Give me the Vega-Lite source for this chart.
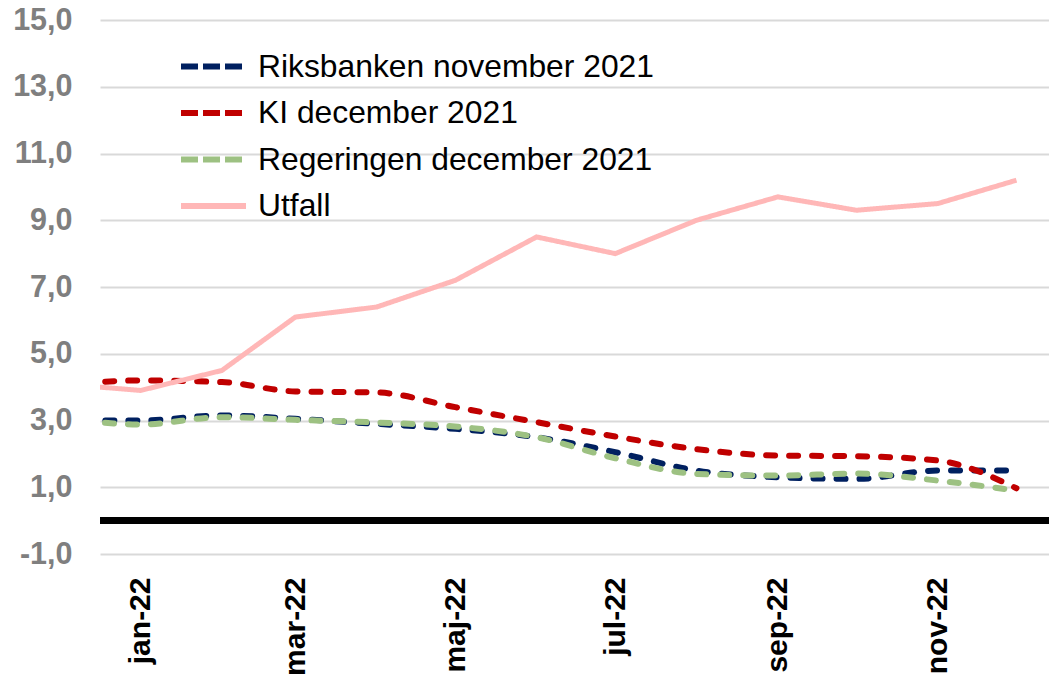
{
  "$schema": "https://vega.github.io/schema/vega-lite/v6.json",
  "width": 949,
  "height": 534,
  "autosize": {"type": "none"},
  "padding": {"left": 100, "top": 20, "right": 0, "bottom": 124},
  "background": "white",
  "config": {
    "view": {"stroke": null},
    "font": "Liberation Sans",
    "legend": {
      "title": null,
      "orient": "none",
      "legendX": 94,
      "legendY": 27,
      "symbolType": "M-2,0H2",
      "symbolSize": 1056,
      "symbolStrokeWidth": 6,
      "labelFont": "Liberation Sans",
      "labelFontSize": 31.8,
      "labelColor": "#000000",
      "labelLimit": 0,
      "labelOffset": 25,
      "rowPadding": 9.5,
      "padding": 0
    }
  },
  "data": {
    "values": [
      {"date": "2021-12-01", "series": "Riksbanken november 2021", "value": 3.0},
      {"date": "2022-01-01", "series": "Riksbanken november 2021", "value": 3.0},
      {"date": "2022-02-01", "series": "Riksbanken november 2021", "value": 3.15},
      {"date": "2022-03-01", "series": "Riksbanken november 2021", "value": 3.05},
      {"date": "2022-04-01", "series": "Riksbanken november 2021", "value": 2.9},
      {"date": "2022-05-01", "series": "Riksbanken november 2021", "value": 2.75},
      {"date": "2022-06-01", "series": "Riksbanken november 2021", "value": 2.5},
      {"date": "2022-07-01", "series": "Riksbanken november 2021", "value": 2.05},
      {"date": "2022-08-01", "series": "Riksbanken november 2021", "value": 1.5},
      {"date": "2022-09-01", "series": "Riksbanken november 2021", "value": 1.3},
      {"date": "2022-10-01", "series": "Riksbanken november 2021", "value": 1.25},
      {"date": "2022-11-01", "series": "Riksbanken november 2021", "value": 1.5},
      {"date": "2022-12-01", "series": "Riksbanken november 2021", "value": 1.5},
      {"date": "2021-12-01", "series": "KI december 2021", "value": 4.05},
      {"date": "2022-01-01", "series": "KI december 2021", "value": 4.2},
      {"date": "2022-02-01", "series": "KI december 2021", "value": 4.15},
      {"date": "2022-03-01", "series": "KI december 2021", "value": 3.87},
      {"date": "2022-04-01", "series": "KI december 2021", "value": 3.84},
      {"date": "2022-05-01", "series": "KI december 2021", "value": 3.4},
      {"date": "2022-06-01", "series": "KI december 2021", "value": 2.95},
      {"date": "2022-07-01", "series": "KI december 2021", "value": 2.52},
      {"date": "2022-08-01", "series": "KI december 2021", "value": 2.14},
      {"date": "2022-09-01", "series": "KI december 2021", "value": 1.95},
      {"date": "2022-10-01", "series": "KI december 2021", "value": 1.93},
      {"date": "2022-11-01", "series": "KI december 2021", "value": 1.8},
      {"date": "2022-12-01", "series": "KI december 2021", "value": 0.97},
      {"date": "2021-12-01", "series": "Regeringen december 2021", "value": 3.1},
      {"date": "2022-01-01", "series": "Regeringen december 2021", "value": 2.88},
      {"date": "2022-02-01", "series": "Regeringen december 2021", "value": 3.1},
      {"date": "2022-03-01", "series": "Regeringen december 2021", "value": 3.02},
      {"date": "2022-04-01", "series": "Regeringen december 2021", "value": 2.94},
      {"date": "2022-05-01", "series": "Regeringen december 2021", "value": 2.82},
      {"date": "2022-06-01", "series": "Regeringen december 2021", "value": 2.5},
      {"date": "2022-07-01", "series": "Regeringen december 2021", "value": 1.87},
      {"date": "2022-08-01", "series": "Regeringen december 2021", "value": 1.4},
      {"date": "2022-09-01", "series": "Regeringen december 2021", "value": 1.35},
      {"date": "2022-10-01", "series": "Regeringen december 2021", "value": 1.41},
      {"date": "2022-11-01", "series": "Regeringen december 2021", "value": 1.2},
      {"date": "2022-12-01", "series": "Regeringen december 2021", "value": 0.9},
      {"date": "2021-12-01", "series": "Utfall", "value": 4.1},
      {"date": "2022-01-01", "series": "Utfall", "value": 3.9},
      {"date": "2022-02-01", "series": "Utfall", "value": 4.5},
      {"date": "2022-03-01", "series": "Utfall", "value": 6.1},
      {"date": "2022-04-01", "series": "Utfall", "value": 6.4},
      {"date": "2022-05-01", "series": "Utfall", "value": 7.2},
      {"date": "2022-06-01", "series": "Utfall", "value": 8.5},
      {"date": "2022-07-01", "series": "Utfall", "value": 8.0},
      {"date": "2022-08-01", "series": "Utfall", "value": 9.0},
      {"date": "2022-09-01", "series": "Utfall", "value": 9.7},
      {"date": "2022-10-01", "series": "Utfall", "value": 9.3},
      {"date": "2022-11-01", "series": "Utfall", "value": 9.5},
      {"date": "2022-12-01", "series": "Utfall", "value": 10.2}
    ]
  },
  "encoding": {
    "x": {
      "field": "date",
      "type": "temporal",
      "scale": {
        "type": "utc",
        "domain": [
          {"year": 2021, "month": 12, "date": 16, "hours": 12, "utc": true},
          {"year": 2022, "month": 12, "date": 13, "hours": 10, "utc": true}
        ]
      },
      "axis": {
        "title": null,
        "values": [
          {"year": 2022, "month": 1, "date": 1, "utc": true},
          {"year": 2022, "month": 3, "date": 1, "utc": true},
          {"year": 2022, "month": 5, "date": 1, "utc": true},
          {"year": 2022, "month": 7, "date": 1, "utc": true},
          {"year": 2022, "month": 9, "date": 1, "utc": true},
          {"year": 2022, "month": 11, "date": 1, "utc": true}
        ],
        "labelExpr": "['jan','feb','mar','apr','maj','jun','jul','aug','sep','okt','nov','dec'][utcmonth(datum.value)] + '-' + utcFormat(datum.value, '%y')",
        "labelAngle": -90,
        "labelFont": "Liberation Sans",
        "labelFontWeight": "bold",
        "labelFontSize": 30,
        "labelColor": "#000000",
        "labelPadding": 23,
        "labelOverlap": false,
        "labelFlush": false,
        "grid": false,
        "domain": false,
        "ticks": false
      }
    },
    "y": {
      "field": "value",
      "type": "quantitative",
      "scale": {"domain": [-1, 15], "nice": false, "zero": false},
      "axis": {
        "title": null,
        "values": [-1, 1, 3, 5, 7, 9, 11, 13, 15],
        "labelExpr": "replace(replace(format(datum.value, '.1f'), '.', ','), '\u2212', '-')",
        "labelFont": "Liberation Sans",
        "labelFontWeight": "bold",
        "labelFontSize": 30.5,
        "labelColor": "#7F7F7F",
        "labelPadding": 28,
        "grid": true,
        "gridColor": "#D9D9D9",
        "gridWidth": 2,
        "domain": false,
        "ticks": false
      }
    },
    "color": {
      "field": "series",
      "type": "nominal",
      "scale": {
        "domain": ["Riksbanken november 2021", "KI december 2021", "Regeringen december 2021", "Utfall"],
        "range": ["#002060", "#C00000", "#9DC182", "#FFB7B7"]
      }
    }
  },
  "layer": [
    {
      "transform": [{"filter": "datum.series !== 'Utfall'"}],
      "mark": {"type": "line", "interpolate": "monotone", "strokeWidth": 6, "strokeCap": "round", "strokeDash": [9, 14], "clip": true}
    },
    {
      "transform": [{"filter": "datum.series === 'Utfall'"}],
      "mark": {"type": "line", "interpolate": "linear", "strokeWidth": 5, "clip": true},
      "encoding": {
        "strokeDash": {
          "field": "series",
          "type": "nominal",
          "scale": {
            "domain": ["Riksbanken november 2021", "KI december 2021", "Regeringen december 2021", "Utfall"],
            "range": [[17, 5], [17, 5], [17, 5], [1, 0]]
          }
        }
      }
    },
    {
      "mark": {"type": "rule", "color": "#000000", "strokeWidth": 6},
      "encoding": {
        "y": {"datum": 0},
        "x": null,
        "color": null
      }
    }
  ]
}
